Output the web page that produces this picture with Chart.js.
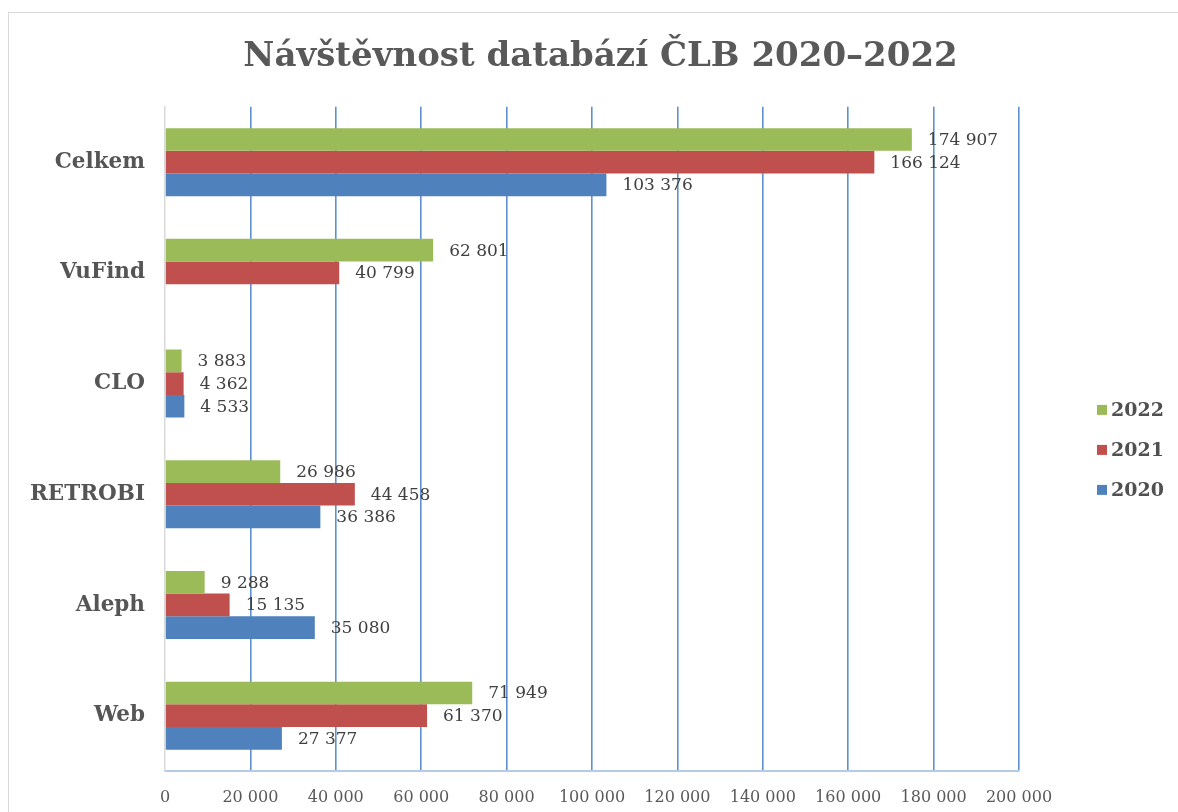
<!DOCTYPE html>
<html>
<head>
<meta charset="utf-8">
<script src="https://cdn.jsdelivr.net/npm/chart.js@4.4.0/dist/chart.umd.min.js"></script>
<style>
  html, body { margin: 0; padding: 0; background: #fff; overflow: hidden; }
  #frame { position: absolute; left: 8px; top: 12px; width: 1200px; height: 820px; border: 1px solid #d9d9d9; box-sizing: border-box; }
  #chart { position: absolute; left: 8px; top: 12px; }
</style>
</head>
<body>
<div id="frame"></div>
<canvas id="chart" width="1185" height="800"></canvas>
<script>
const categories = ["Celkem", "VuFind", "CLO", "RETROBI", "Aleph", "Web"];
const years = ["2022", "2021", "2020"];
const values2022 = [174907, 62801, 3883, 26986, 9288, 71949];
const values2021 = [166124, 40799, 4362, 44458, 15135, 61370];
const values2020 = [103376, null, 4533, 36386, 35080, 27377];
const axisMin = 0;
const axisMax = 200000;
const axisStep = 20000;

const colors = ["#9BBB59", "#C0504D", "#4F81BD"];
const serif = "DejaVu Serif";

// thousands separated by a space, like the original
const fmt = v => String(v).replace(/\B(?=(\d{3})+(?!\d))/g, " ");

// value labels just right of each bar
const barLabels = {
  id: "barLabels",
  afterDatasetsDraw(chart) {
    const ctx = chart.ctx;
    ctx.save();
    ctx.font = `17px '${serif}'`;
    ctx.fillStyle = "#404040";
    ctx.textBaseline = "middle";
    chart.data.datasets.forEach((ds, i) => {
      chart.getDatasetMeta(i).data.forEach((bar, j) => {
        const v = ds.data[j];
        if (v == null) return;
        ctx.fillText(fmt(v), bar.x + 16, bar.y + 1);
      });
    });
    ctx.restore();
  }
};

// legend drawn in the empty column on the right
const sideLegend = {
  id: "sideLegend",
  afterDraw(chart) {
    const side = chart.scales.side;
    const ctx = chart.ctx;
    const n = chart.data.datasets.length;
    const mid = (chart.chartArea.top + chart.chartArea.bottom) / 2 + 11;
    ctx.save();
    ctx.font = `bold 19px '${serif}'`;
    ctx.textBaseline = "middle";
    chart.data.datasets.forEach((ds, i) => {
      const y = mid + (i - (n - 1) / 2) * 40;
      ctx.fillStyle = ds.backgroundColor;
      ctx.fillRect(side.left + 78, y - 5, 10, 10);
      ctx.fillStyle = "#505050";
      ctx.fillText(ds.label, side.left + 92, y + 1);
    });
    ctx.restore();
  }
};

const series = [values2022, values2021, values2020];

new Chart(document.getElementById("chart"), {
  type: "bar",
  data: {
    labels: categories,
    datasets: series.map((vals, i) => ({
      label: years[i],
      data: vals,
      backgroundColor: colors[i],
      borderWidth: 0,
      categoryPercentage: 0.614,
      barPercentage: 1
    }))
  },
  options: {
    indexAxis: "y",
    responsive: false,
    animation: false,
    layout: { padding: 0 },
    plugins: {
      legend: { display: false },
      tooltip: { enabled: false },
      title: {
        display: true,
        text: "Návštěvnost databází ČLB 2020–2022",
        color: "#595959",
        font: { family: serif, size: 34, weight: "bold", lineHeight: 1.2 },
        padding: { top: 25, bottom: 29 }
      }
    },
    scales: {
      x: {
        min: axisMin,
        max: axisMax,
        ticks: {
          stepSize: axisStep,
          callback: v => fmt(v),
          padding: 17,
          color: "#595959",
          font: { family: serif, size: 16 },
          maxRotation: 0,
          autoSkip: false
        },
        grid: {
          color: c => (c.tick && c.tick.value === 0 ? "rgba(0,0,0,0)" : "#5e8fcf"),
          lineWidth: 1.6,
          drawTicks: false
        },
        border: { color: "#b4cbe8", width: 2 },
        afterFit: s => { s.height = 41; }
      },
      y: {
        grid: { display: false, drawTicks: false },
        border: { color: "#d9d9d9", width: 1.5 },
        ticks: {
          padding: 20,
          color: "#555555",
          font: { family: serif, size: 21.5, weight: "bold" }
        },
        afterFit: s => { s.width = 157; }
      },
      side: {
        type: "category",
        axis: "y",
        position: "right",
        display: true,
        labels: [],
        ticks: { display: false },
        grid: { display: false, drawTicks: false },
        border: { display: false },
        afterFit: s => { s.width = 174; }
      }
    }
  },
  plugins: [barLabels, sideLegend]
});
</script>
</body>
</html>
